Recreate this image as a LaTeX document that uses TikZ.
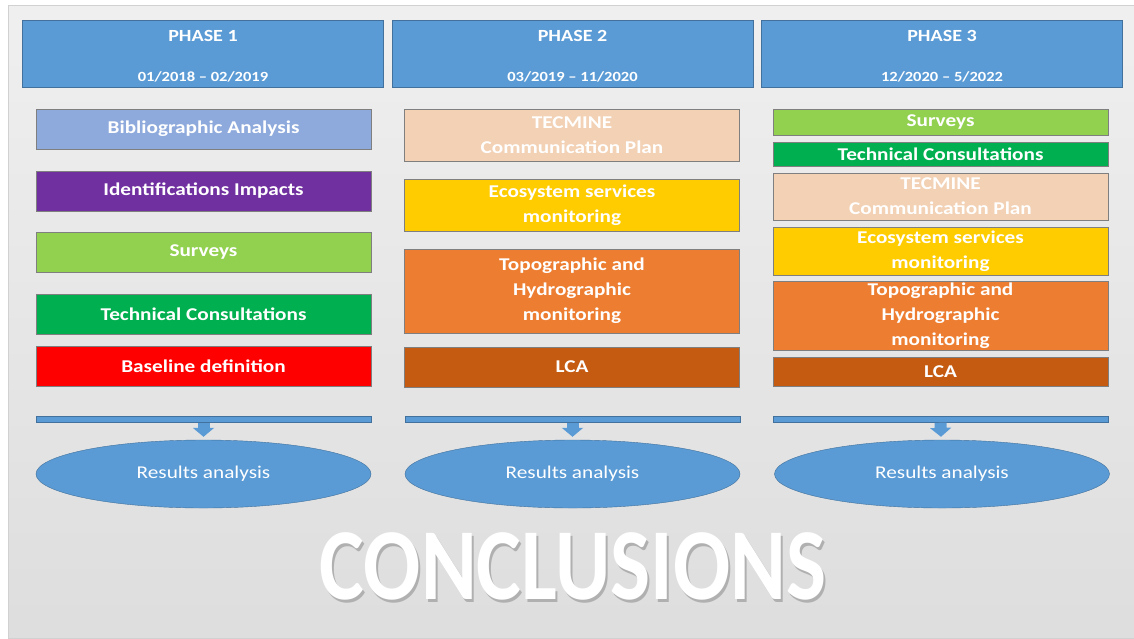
\documentclass[tikz,border=0pt]{standalone}
\usepackage{fontspec}
\setmainfont{Carlito}[FakeStretch=1.18]
\newfontfamily\conclfont{Carlito}[FakeStretch=0.83]
\usetikzlibrary{shapes.geometric,arrows.meta}
\definecolor{hdrblue}{HTML}{5B9BD5}
\definecolor{hdrline}{HTML}{41719C}
\definecolor{boxline}{HTML}{7F7F7F}
\definecolor{biblio}{HTML}{8EA9DB}
\definecolor{impacts}{HTML}{7030A0}
\definecolor{surveys}{HTML}{92D050}
\definecolor{techcons}{HTML}{00B050}
\definecolor{baseline}{HTML}{FF0000}
\definecolor{tecmine}{HTML}{F2D1B5}
\definecolor{ecos}{HTML}{FFCC00}
\definecolor{topo}{HTML}{ED7D31}
\definecolor{lca}{HTML}{C55A11}
\definecolor{bgtop}{HTML}{F8F8F8}
\definecolor{bgmid}{HTML}{D9D9D9}
\definecolor{bgbot}{HTML}{E3E3E3}
\definecolor{shadowgray}{HTML}{B0B0B0}
\pgfdeclareverticalshading{slidebg}{100bp}{color(0bp)=(bgbot); color(12bp)=(bgmid); color(100bp)=(bgtop)}
\begin{document}
\begin{tikzpicture}[x=1pt,y=-1pt,
    phase/.style={draw=hdrline,fill=hdrblue,minimum width=361,minimum height=67,inner sep=0,
      text=white,align=center,font=\fontsize{17}{20}\selectfont\bfseries},
    task/.style={draw=boxline,line width=0.8pt,minimum width=335,inner sep=0,text=white,
      align=center,font=\fontsize{18}{25}\selectfont\bfseries},
    bar/.style={draw=hdrline,fill=hdrblue,minimum width=335,minimum height=6,inner sep=0},
    result/.style={ellipse,draw=hdrline,fill=hdrblue,minimum width=335,minimum height=68,
      text=white,font=\fontsize{18}{22}\selectfont},
    down/.style={hdrblue,line width=12pt,shorten >=3pt,-{Triangle[width=21pt,length=9pt]}}]
  \useasboundingbox (0,0) rectangle (1134,638);
  \fill[white] (0,0) rectangle (1134,638);
  \shade[shading=slidebg,draw=black!18] (8,5) rectangle (1134,638);
  \draw
    (203,53.5) node[phase] (p1){\rule{0pt}{16pt}PHASE 1\\[20pt]{\fontsize{14}{16}\selectfont 01/2018 – 02/2019}}
    (572.5,53.5) node[phase] (p2){\rule{0pt}{16pt}PHASE 2\\[20pt]{\fontsize{14}{16}\selectfont 03/2019 – 11/2020}}
    (942,53.5) node[phase] (p3){\rule{0pt}{16pt}PHASE 3\\[20pt]{\fontsize{14}{16}\selectfont 12/2020 – 5/2022}};
  \draw
    (203.5,129) node[task,fill=biblio,minimum height=40] (biblio1){Bibliographic Analysis}
    (203.5,191) node[task,fill=impacts,minimum height=40] (impacts1){Identifications Impacts}
    (203.5,252) node[task,fill=surveys,minimum height=40] (surveys1){Surveys}
    (203.5,314) node[task,fill=techcons,minimum height=40] (cons1){Technical Consultations}
    (203.5,366) node[task,fill=baseline,minimum height=40] (base1){Baseline definition};
  \draw
    (572,135) node[task,fill=tecmine,minimum height=52] (tecmine2){TECMINE\\Communication Plan}
    (572,205) node[task,fill=ecos,minimum height=52] (eco2){Ecosystem services\\monitoring}
    (572,291) node[task,fill=topo,minimum height=84] (topo2){Topographic and\\Hydrographic\\monitoring}
    (572,367) node[task,fill=lca,minimum height=40] (lca2){LCA};
  \draw
    (940.5,122) node[task,fill=surveys,minimum height=26] (surveys3){Surveys}
    (940.5,154) node[task,fill=techcons,minimum height=24] (cons3){Technical Consultations}
    (940.5,196.5) node[task,fill=tecmine,minimum height=47] (tecmine3){TECMINE\\Communication Plan}
    (940.5,251) node[task,fill=ecos,minimum height=48] (eco3){Ecosystem services\\monitoring}
    (940.5,315.5) node[task,fill=topo,minimum height=69] (topo3){Topographic and\\Hydrographic\\monitoring}
    (940.5,371.5) node[task,fill=lca,minimum height=29] (lca3){LCA};
  \draw
    (203.5,419.5) node[bar] (bar1){}
    (572.5,419.5) node[bar] (bar2){}
    (940.5,419.5) node[bar] (bar3){};
  \draw
    (203.5,474) node[result] (res1){Results analysis}
    (572.5,474) node[result] (res2){Results analysis}
    (942,474) node[result] (res3){Results analysis};
  \begin{scope}[down]
    \draw (bar1) to (res1);
    \draw (bar2) to (res2);
    \draw (bar3) to (res3);
  \end{scope}
  \node[text=white,font=\fontsize{102}{110}\selectfont\conclfont\bfseries] (concl) at (573,568)
    {\makebox[0pt][l]{\hspace{2pt}\raisebox{-2.5pt}{\textcolor{shadowgray}{CONCLUSIONS}}}CONCLUSIONS};
\end{tikzpicture}
\end{document}
